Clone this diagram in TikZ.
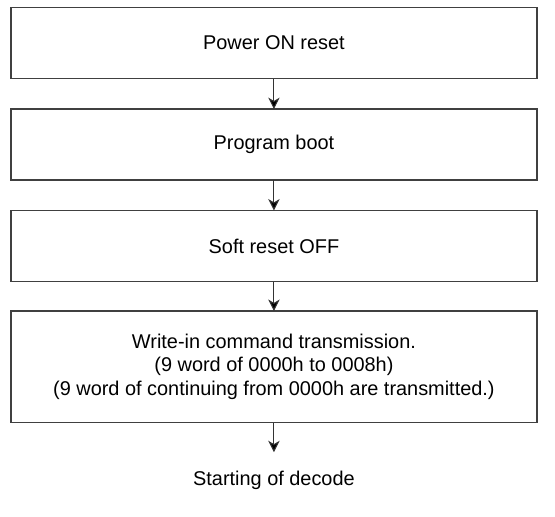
\documentclass[tikz,border=0pt]{standalone}
\usepackage{fontspec}
\setmainfont{Liberation Sans}
\usetikzlibrary{arrows.meta}
\tikzset{
  stepbox/.style={draw=black!75, line width=1.3pt, minimum width=555pt, inner sep=0pt, outer sep=0pt, align=center, font=\fontsize{21}{25}\selectfont},
  flow/.style={draw=black!80, line width=1.1pt, -{Stealth[length=12pt,width=12pt,inset=3.5pt,fill=black]}},
  plain/.style={inner sep=0pt, outer sep=0pt, font=\fontsize{21}{25}\selectfont}
}
\begin{document}
\begin{tikzpicture}
\useasboundingbox (0pt,0pt) rectangle (585.5pt,-545.4pt);
\node[stepbox, minimum height=75pt] (b1) at (289pt,-45.5pt) {Power ON reset};
\node[stepbox, minimum height=75pt] (b2) at (289pt,-152.5pt) {Program boot};
\node[stepbox, minimum height=75pt] (b3) at (289pt,-259.5pt) {Soft reset OFF};
\node[stepbox, minimum height=118pt] (b4) at (289pt,-387pt) {Write-in command transmission.\\(9 word of 0000h to 0008h)\\(9 word of continuing from 0000h are transmitted.)};
\node[plain, anchor=base, text height=15pt, inner ysep=20pt] (t) at (289pt,-512pt) {Starting of decode};
\draw[flow] (b1) -- (b2);
\draw[flow] (b2) -- (b3);
\draw[flow] (b3) -- (b4);
\draw[flow] (b4) -- (t);
\end{tikzpicture}
\end{document}
